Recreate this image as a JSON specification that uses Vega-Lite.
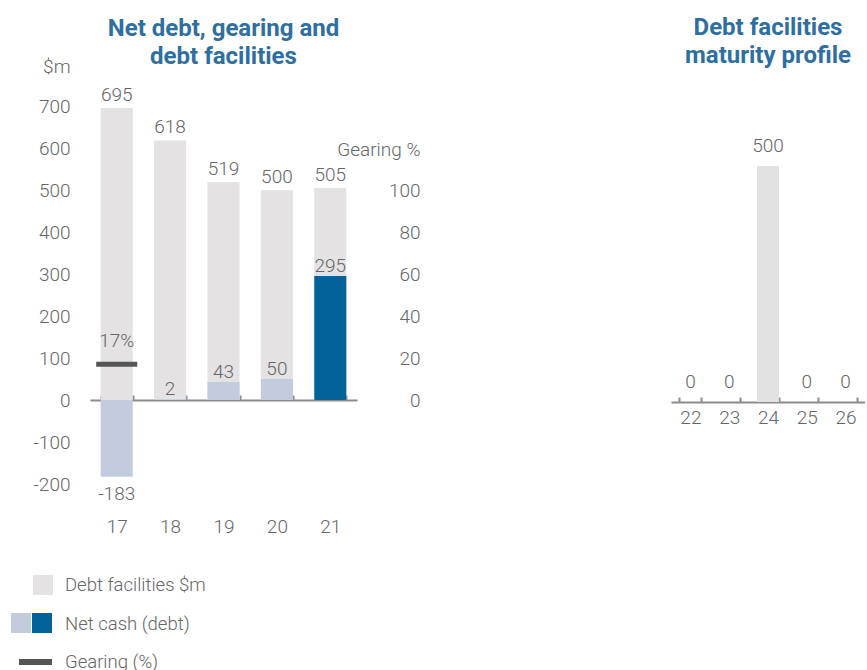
{
  "$schema": "https://vega.github.io/schema/vega-lite/v6.json",
  "padding": {"left": 11, "top": 16, "right": 0, "bottom": 0},
  "background": "white",
  "config": {
    "view": {"stroke": null},
    "font": "Roboto",
    "title": {"font": "Roboto", "fontSize": 24, "fontWeight": "bold", "color": "#2f6fa0", "lineHeight": 28},
    "axis": {"labelFont": "Roboto", "labelFontSize": 19, "labelFontWeight": 300, "labelColor": "#666666", "titleFont": "Roboto", "titleFontSize": 19, "titleFontWeight": 300, "titleColor": "#666666", "grid": false},
    "text": {"font": "Roboto", "fontSize": 19, "fontWeight": 300, "color": "#666666"}
  },
  "datasets": {
    "main": [
      {"year": "17", "measure": "Debt facilities $m", "value": 695},
      {"year": "18", "measure": "Debt facilities $m", "value": 618},
      {"year": "19", "measure": "Debt facilities $m", "value": 519},
      {"year": "20", "measure": "Debt facilities $m", "value": 500},
      {"year": "21", "measure": "Debt facilities $m", "value": 505},
      {"year": "17", "measure": "Net cash (debt)", "value": -183},
      {"year": "18", "measure": "Net cash (debt)", "value": 2},
      {"year": "19", "measure": "Net cash (debt)", "value": 43},
      {"year": "20", "measure": "Net cash (debt)", "value": 50},
      {"year": "21", "measure": "Net cash (debt)", "value": 295}
    ],
    "gearing": [
      {"year": "17", "measure": "Gearing (%)", "value": 17, "label": "17%"}
    ],
    "maturity": [
      {"year": "22", "value": 0},
      {"year": "23", "value": 0},
      {"year": "24", "value": 500},
      {"year": "25", "value": 0},
      {"year": "26", "value": 0}
    ]
  },
  "hconcat": [
    {
      "width": 267,
      "height": 378,
      "title": {"text": ["Net debt, gearing and", "debt facilities"], "frame": "group", "anchor": "middle", "offset": -12},
      "encoding": {
        "x": {
          "field": "year", "type": "ordinal",
          "scale": {"domain": ["17", "18", "19", "20", "21"], "paddingInner": 0.4, "paddingOuter": 0.2},
          "axis": {"orient": "bottom", "offset": -84, "title": null, "labelAngle": 0, "domainColor": "#8c8c8c", "domainWidth": 2, "tickColor": "#8c8c8c", "tickWidth": 2, "tickSize": -5, "tickBand": "extent", "labelPadding": 122}
        }
      },
      "layer": [
        {
          "data": {"name": "main"},
          "encoding": {
            "y": {
              "field": "value", "type": "quantitative",
              "scale": {"domain": [-200, 700], "nice": false},
              "axis": {"orient": "left", "title": "$m", "titleAngle": 0, "titleAlign": "right", "titleBaseline": "middle", "titleX": -20, "titleY": -40, "values": [-200, -100, 0, 100, 200, 300, 400, 500, 600, 700], "domain": false, "ticks": false, "labelPadding": 20, "labelExpr": "datum.value < 0 ? '-' + abs(datum.value) : datum.label"}
            }
          },
          "layer": [
            {
              "transform": [{"filter": "datum.measure === 'Debt facilities $m'"}],
              "mark": {"type": "bar"},
              "encoding": {
                "color": {
                  "field": "measure", "type": "nominal",
                  "scale": {
                    "domain": ["Debt facilities $m", "Net cash (debt)", "Gearing (%)"],
                    "range": ["#e4e2e3", "#c3cbdf", "#555555"]
                  },
                  "legend": {
                    "orient": "none", "legendX": -57, "legendY": 469, "title": null, "padding": 0,
                    "symbolSize": 400, "symbolStrokeWidth": 0, "rowPadding": 18.5, "labelOffset": 12,
                    "labelFont": "Roboto", "labelFontSize": 18.5, "labelFontWeight": 300, "labelColor": "#666666", "labelLimit": 300,
                    "encode": {
                      "symbols": {
                        "update": {
                          "shape": [
                            {"test": "datum.value === 'Net cash (debt)'", "value": "M0,0L0,0Z"},
                            {"test": "datum.value === 'Gearing (%)'", "value": "M-2.4,-0.3H0.9V0.3H-2.4Z"},
                            {"value": "M-1,-1H1V1H-1Z"}
                          ],
                          "stroke": {"value": "transparent"},
                          "opacity": {"value": 1}
                        }
                      }
                    }
                  }
                }
              }
            },
            {
              "transform": [{"filter": "datum.measure === 'Net cash (debt)'"}],
              "mark": {"type": "bar"},
              "encoding": {
                "fill": {
                  "field": "year", "type": "nominal",
                  "scale": {"domain": ["17", "18", "19", "20", "21"], "range": ["#c3cbdf", "#c3cbdf", "#c3cbdf", "#c3cbdf", "#03629a"]},
                  "legend": {
                    "orient": "none", "legendX": -79, "legendY": 507, "title": null, "padding": 0,
                    "values": ["17", "21"], "direction": "horizontal", "columns": 2, "columnPadding": 1,
                    "symbolType": "square", "symbolSize": 400, "symbolStrokeWidth": 0, "symbolOpacity": 1,
                    "labelExpr": "''", "labelOffset": 0, "labelFontSize": 1
                  }
                }
              }
            },
            {
              "transform": [{"filter": "datum.measure === 'Debt facilities $m'"}],
              "mark": {"type": "text", "baseline": "bottom", "dy": -3},
              "encoding": {"text": {"field": "value", "type": "nominal"}}
            },
            {
              "transform": [{"filter": "datum.measure === 'Net cash (debt)' && datum.value >= 0"}],
              "mark": {"type": "text", "baseline": "bottom", "dy": 0},
              "encoding": {"text": {"field": "value", "type": "nominal"}}
            },
            {
              "transform": [{"filter": "datum.measure === 'Net cash (debt)' && datum.value < 0"}],
              "mark": {"type": "text", "baseline": "top", "dy": 8},
              "encoding": {"text": {"field": "value", "type": "nominal"}}
            }
          ]
        },
        {
          "data": {"name": "gearing"},
          "encoding": {
            "y": {
              "field": "value", "type": "quantitative",
              "scale": {"domain": [-40, 140], "nice": false},
              "axis": {"orient": "right", "title": "Gearing %", "titleAngle": 0, "titleAlign": "right", "titleBaseline": "middle", "titleX": 63, "titleY": 43, "values": [0, 20, 40, 60, 80, 100], "domain": false, "ticks": false, "labelPadding": 63, "labelAlign": "right"}
            }
          },
          "layer": [
            {
              "mark": {"type": "tick", "thickness": 5, "size": 41, "opacity": 1},
              "encoding": {"color": {"value": "#555555"}}
            },
            {
              "mark": {"type": "text", "baseline": "bottom", "dy": -13},
              "encoding": {"text": {"field": "label", "type": "nominal"}}
            }
          ]
        }
      ],
      "resolve": {"scale": {"y": "independent"}}
    },
    {
      "width": 194,
      "height": 296,
      "title": {"text": ["Debt facilities", "maturity profile"], "frame": "group", "anchor": "middle", "offset": 38},
      "data": {"name": "maturity"},
      "encoding": {
        "x": {
          "field": "year", "type": "ordinal",
          "scale": {"paddingInner": 0.43, "paddingOuter": 0.215},
          "axis": {"title": null, "labelAngle": 0, "domainColor": "#8c8c8c", "domainWidth": 2, "tickColor": "#8c8c8c", "tickWidth": 2, "tickSize": -5, "tickBand": "extent", "labelPadding": 11}
        },
        "y": {"field": "value", "type": "quantitative", "scale": {"domain": [0, 627], "nice": false}, "axis": null}
      },
      "layer": [
        {"mark": {"type": "bar", "color": "#e2e2e2"}},
        {"mark": {"type": "text", "baseline": "bottom", "dy": -10}, "encoding": {"text": {"field": "value", "type": "nominal"}}}
      ]
    }
  ],
  "spacing": 251
}
